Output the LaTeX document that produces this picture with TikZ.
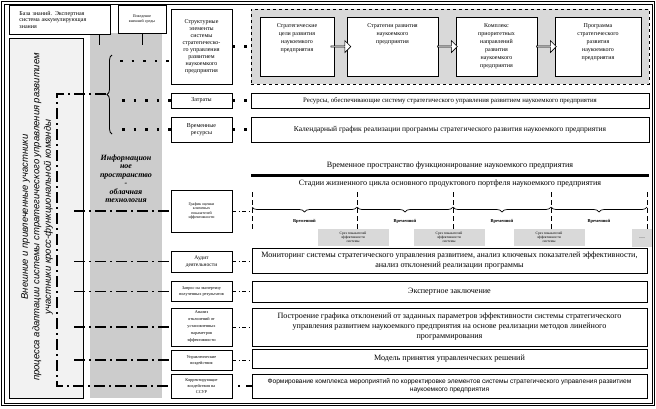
\documentclass[tikz,border=0pt]{standalone}
\usepackage{fontspec}
\setmainfont{Liberation Serif}
\newfontfamily\sansf{Liberation Sans}
\usepackage{tikz}
\usetikzlibrary{arrows.meta, positioning, shapes.arrows, calc, decorations.pathreplacing}
\definecolor{colgray}{RGB}{204, 204, 204}
\definecolor{boxgray}{RGB}{217, 217, 217}
\definecolor{leftgray}{RGB}{242, 242, 242}
\tikzset{
    blk/.style    ={draw=black, line width=0.8pt, fill=white,
                    align=center, inner sep=1pt},
    midblk/.style ={blk, minimum width=61pt},
    wideblk/.style={blk, minimum width=395pt},
    topblk/.style ={blk, minimum height=59pt},
    toptxt/.style ={anchor=north, yshift=-3pt, align=center,
                    font=\fontsize{6}{8}\selectfont},
    bigtxt/.style ={font=\fontsize{8.1}{10}\selectfont},
    smtxt/.style  ={font=\fontsize{6}{7}\selectfont},
    tinytxt/.style={font=\fontsize{4.3}{6}\selectfont},
    slice/.style  ={fill=boxgray, minimum width=71pt, minimum height=17pt,
                    align=center, inner sep=0pt, font=\fontsize{3.6}{4.2}\selectfont},
    blkar/.style  ={single arrow, draw=black, line width=0.6pt, fill=white,
                    minimum height=20pt, minimum width=12pt, inner sep=0pt,
                    single arrow head extend=2.5pt},
    sqdot/.style  ={line width=2.6pt, dash pattern=on 2.6pt off 9pt},
    dashdot/.style={line width=1.8pt, dash pattern=on 11pt off 4pt on 2pt off 4pt},
    thindd/.style ={line width=0.9pt, dash pattern=on 4pt off 2.5pt on 1pt off 2.5pt},
    tline/.style  ={line width=0.7pt, dash pattern=on 5pt off 3pt},
    brc/.style    ={decorate, decoration={brace, mirror, amplitude=5pt}, line width=0.7pt},
    brcl/.style   ={decorate, decoration={brace, amplitude=5pt}, line width=0.8pt}
}

\begin{document}
\begin{tikzpicture}[x=1pt, y=-1pt]
  \useasboundingbox (0,0) rectangle (656,408);
  % frame and background
  \draw[line width=1.5pt] (1.5,1.5) rectangle (654.5,405.5);
  \draw[line width=0.4pt] (3.8,3.8) rectangle (652.2,403.2);
  \fill[colgray] (90,33) rectangle (162,398);
  \node[draw=black, line width=0.8pt, fill=leftgray, minimum width=74pt,
        minimum height=360pt] (teambox) at (46,218) {};
  \node[rotate=90, align=center, font=\sansf\itshape\fontsize{9.5}{11.5}\selectfont] (team) at (37,217)
    {Внешние и привлеченные участники\\процесса адаптации системы стратегического управления развитием\\участники кросс-функциональной команды};
  \node[align=center, font=\bfseries\itshape\fontsize{8}{8.5}\selectfont] (info) at (126,179)
    {Информацион\\ное\\пространство\\-\\облачная\\технология};

  % top left
  \node[blk, minimum width=101pt, minimum height=29pt, text width=80pt, align=left,
        font=\fontsize{6}{6.5}\selectfont] (kb) at (59.5,19.5)
    {База знаний. Экспертная\\система аккумулирующая\\знания};
  \node[blk, minimum width=48pt, minimum height=28pt, font=\fontsize{4}{5.5}\selectfont] (env) at (142,19)
    {Поведение\\внешней среды};
  \coordinate (kbend) at (99,45);
  \coordinate (envend) at (142,45);
  \draw[line width=1pt] (kbend |- kb.south) -- (kbend);
  \draw[line width=1pt] (env.south) -- (envend);

  % middle column
  \node[midblk, minimum height=75pt, smtxt] (struct) at (201.5,46.5)
    {Структурные\\элементы\\системы\\стратегическо-\\го управления\\развитием\\наукоемкого\\предприятия};
  \node[midblk, minimum height=15pt, smtxt] (cost) at (201.5,100.5) {Затраты};
  \node[midblk, minimum height=25pt, smtxt] (timeres) at (201.5,129.5) {Временные\\ресурсы};
  \node[midblk, minimum height=42pt, font=\fontsize{4}{4.6}\selectfont] (kpi) at (201.5,211)
    {График оценки\\ключевых\\показателей\\эффективности};
  \node[midblk, minimum height=21pt, font=\fontsize{5.5}{7}\selectfont] (audit) at (201.5,261.5)
    {Аудит\\деятельности};
  \node[midblk, minimum height=20pt, tinytxt] (expreq) at (201.5,291.5)
    {Запрос на экспертизу\\полученных результатов};
  \node[midblk, minimum height=38pt, font=\fontsize{4.3}{7}\selectfont] (devan) at (201.5,327)
    {Анализ\\отклонений от\\установленных\\параметров\\эффективности};
  \node[midblk, minimum height=20pt, tinytxt] (mgmt) at (201.5,360)
    {Управленческие\\воздействия};
  \node[midblk, minimum height=24pt, tinytxt] (corr) at (201.5,386)
    {Корректирующие\\воздействия на\\ССУР};

  % strategy chain
  \node[draw=black, dashed, line width=0.8pt, fill=boxgray, minimum width=398pt,
        minimum height=75pt] (goals) at (450,46.5) {};
  \node[topblk, minimum width=74pt,
        label={[toptxt]north:Стратегические\\цели развития\\наукоемкого\\предприятия}] (g1) at (297,46.5) {};
  \node[topblk, minimum width=91pt,
        label={[toptxt]north:Стратегии развития\\наукоемкого\\предприятия}] (g2) at (392.5,46.5) {};
  \node[topblk, minimum width=81pt,
        label={[toptxt]north:Комплекс\\приоритетных\\направлений\\развития\\наукоемкого\\предприятия}] (g3) at (496.5,46.5) {};
  \node[topblk, minimum width=86pt,
        label={[toptxt]north:Программа\\стратегического\\развития\\наукоемкого\\предприятия}] (g4) at (598,46.5) {};
  \node[blkar] (a12) at ($(g1.east)!0.5!(g2.west)$) {};
  \node[blkar] (a23) at ($(g2.east)!0.5!(g3.west)$) {};
  \node[blkar] (a34) at ($(g3.east)!0.5!(g4.west)$) {};

  \node[blk, minimum width=398pt, minimum height=15pt, font=\fontsize{6.8}{8}\selectfont] (res) at (450,100.5)
    {Ресурсы, обеспечивающие систему стратегического управления развитием наукоемкого предприятия};
  \node[blk, minimum width=398pt, minimum height=25pt, font=\fontsize{7.5}{9}\selectfont] (cal) at (450,129.5)
    {Календарный график  реализации программы стратегического развития наукоемкого предприятия};

  % time axis
  \node[bigtxt] (tspace) at (450,166) {Временное пространство функционирование наукоемкого предприятия};
  \coordinate (tl) at (251,175);
  \coordinate (tr) at (649,175);
  \draw[line width=3pt] (tl) -- (tr);
  \node[bigtxt] (stages) at (450,184) {Стадии жизненного цикла основного продуктового портфеля наукоемкого предприятия};
  \coordinate (t0) at (252,192);
  \coordinate (t1) at (357,192);
  \coordinate (t2) at (453,192);
  \coordinate (t3) at (551,192);
  \coordinate (t4) at (647,192);

  % lower boxes
  \node[wideblk, minimum height=25pt, bigtxt] (mon) at (449.5,260.5)
    {Мониторинг системы стратегического управления развитием, анализ ключевых показателей эффективности,\\анализ отклонений реализации программы};
  \node[wideblk, minimum height=21pt, bigtxt] (expert) at (449.5,291.5) {Экспертное заключение};
  \node[wideblk, minimum height=38pt, bigtxt] (build) at (449.5,327)
    {Построение графика отклонений от заданных параметров эффективности системы стратегического\\управления  развитием наукоемкого предприятия на основе реализации методов линейного\\программирования};
  \node[wideblk, minimum height=19pt, bigtxt] (model) at (449.5,359) {Модель принятия управленческих решений};
  \node[wideblk, minimum height=24pt, font=\sansf\fontsize{6.6}{8}\selectfont] (form) at (449.5,386)
    {Формирование комплекса мероприятий по корректировке элементов системы стратегического управления развитием\\наукоемкого предприятия};

  \draw[tline] (t0) -- (252,230);
  \draw[tline] (t1) -- (t1 |- mon.north);
  \draw[tline] (t2) -- (t2 |- mon.north);
  \draw[tline] (t3) -- (t3 |- mon.north);
  \draw[tline] (t4) -- (647,230);
  \draw[brc] (252,207) -- (357,207);
  \draw[brc] (357,207) -- (453,207);
  \draw[brc] (453,207) -- (551,207);
  \draw[brc] (551,207) -- (647,207);
  \node[font=\bfseries\fontsize{4.5}{5}\selectfont] (per1) at (304.5,221) {Временной};
  \node[font=\bfseries\fontsize{4.5}{5}\selectfont] (per2) at (405,221) {Временной};
  \node[font=\bfseries\fontsize{4.5}{5}\selectfont] (per3) at (502,221) {Временной};
  \node[font=\bfseries\fontsize{4.5}{5}\selectfont] (per4) at (599,221) {Временной};
  \node[slice] (s1) at (353,237.5) {Срез показателей\\эффективности\\системы};
  \node[slice] (s2) at (449,237.5) {Срез показателей\\эффективности\\системы};
  \node[slice] (s3) at (549,237.5) {Срез показателей\\эффективности\\системы};
  \node[slice, minimum width=20pt, minimum height=18pt, font=\fontsize{6}{7}\selectfont] (s4) at (642,238) {\ldots};

  % brace and left connectors
  \draw[brcl] (112,134) -- (112,55);
  \coordinate (btip) at (106,94);
  \coordinate (lcorner) at (57,94);
  \coordinate (bcorner) at (57,386);
  \coordinate (lx) at (74,0);
  \draw[dashdot] (btip) -- (lcorner) -- (bcorner) -- (corr.west);
  \draw[dashdot] (kpi.west -| lx) -- (kpi.west);
  \draw[dashdot] (audit.west -| lx) -- (audit.west);
  \draw[dashdot] (expreq.west -| lx) -- (expreq.west);
  \draw[dashdot] (devan.west -| lx) -- (devan.west);
  \draw[dashdot] (mgmt.west -| lx) -- (mgmt.west);
  \coordinate (bt) at (120,61);
  \coordinate (bm) at (122,100.5);
  \coordinate (bb) at (122,129.5);
  \draw[sqdot] (bt) -- (bt -| struct.west);
  \draw[sqdot] (bm) -- (cost.west);
  \draw[sqdot] (bb) -- (timeres.west);

  % middle to right
  \draw[sqdot] (struct.east) -- (struct.east -| goals.west);
  \draw[sqdot] (cost.east) -- (res.west);
  \draw[sqdot] (timeres.east) -- (cal.west);
  \draw[thindd] (kpi.east) -- (kpi.east -| t0);
  \draw[thindd] (audit.east) -- (audit.east -| mon.west);
  \draw[thindd] (expreq.east) -- (expreq.east -| expert.west);
  \draw[thindd] (devan.east) -- (devan.east -| build.west);
  \draw[thindd] (mgmt.east) -- (mgmt.east -| model.west);
  \draw[line width=1.8pt, dash pattern=on 0pt off 6pt on 2pt off 6pt on 10pt off 0pt]
    (corr.east) -- (corr.east -| form.west);
\end{tikzpicture}
\end{document}
